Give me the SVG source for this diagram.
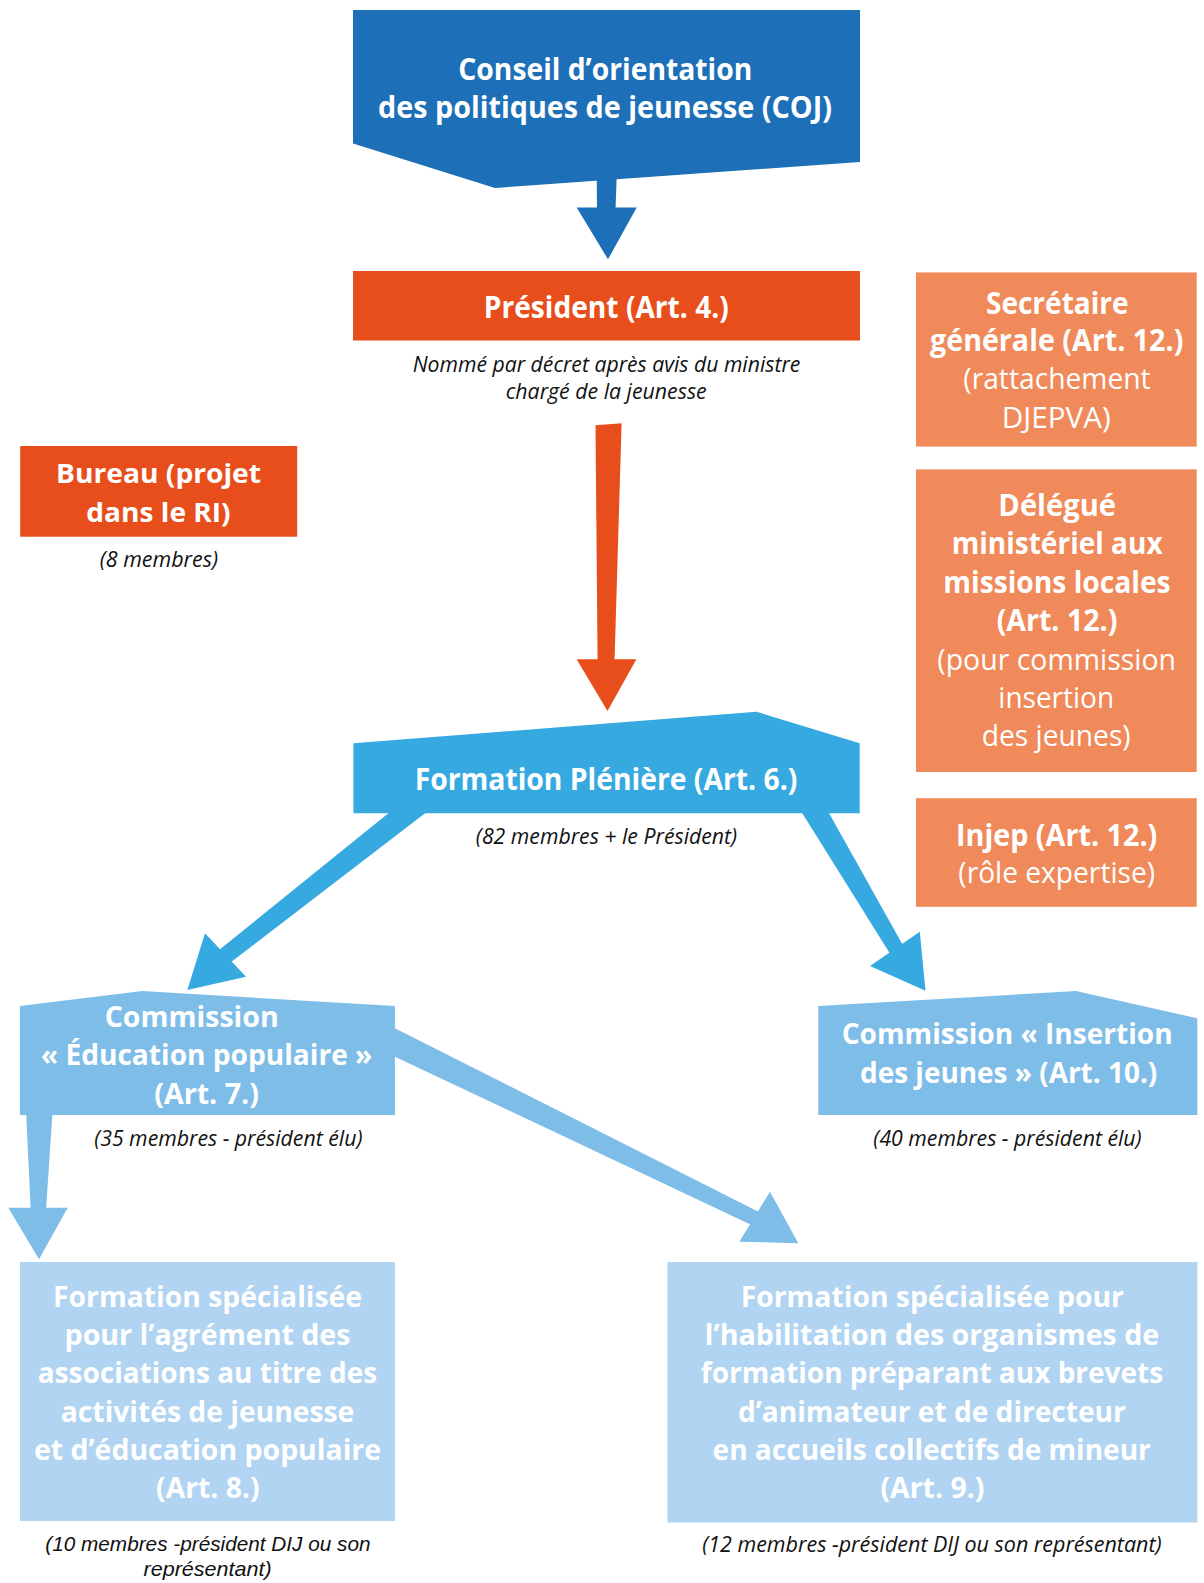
<svg xmlns="http://www.w3.org/2000/svg" width="1204" height="1583" viewBox="0 0 1204 1583">
<style>
text{font-family:"Open Sans","Liberation Sans",sans-serif;text-anchor:middle}
.b{font-weight:700;fill:#fff}
.r{font-weight:400;fill:#fff}
.s30{font-size:30px}
.s29{font-size:29px}
.s28{font-size:28px}
.s27{font-size:27px}
.i{font-style:italic;font-size:21px;fill:#111}
.i2{font-family:"Liberation Sans",Arial,sans-serif}
.coj{fill:#1D70B7}
.red{fill:#E84E1B}
.lor{fill:#F18A5B}
.ple{fill:#36A9E1}
.com{fill:#7FBDE9}
.spe{fill:#B0D4F1}
</style>
<rect width="1204" height="1583" fill="#fff"/>
<g id="connectors">
  <g id="arrow-coj-president" class="coj">
    <polygon points="596.7,176 616.7,176 615.5,210 597,210"/>
    <polygon points="576.7,207.5 636.7,207.5 608,259.3"/>
  </g>
  <g id="arrow-president-pleniere" class="red">
    <polygon points="595.5,425.3 621.6,423.3 614.5,662 597.6,662"/>
    <polygon points="576.6,659.3 636.4,659.3 607.5,711"/>
  </g>
  <g id="arrow-pleniere-education" class="ple">
    <polygon points="396.1,807 432.9,807.2 228.5,964.1 216.9,951.8"/>
    <polygon points="205,933.3 246,976.7 187.3,990"/>
  </g>
  <g id="arrow-pleniere-insertion" class="ple">
    <polygon points="797.3,805.3 824.6,805.3 903.8,946.8 891.3,955.7"/>
    <polygon points="870,966 919.8,931.7 925.5,990.7"/>
  </g>
  <g id="arrow-education-agrement" class="com">
    <polygon points="26,1110 52.7,1110 46,1210 30.7,1210"/>
    <polygon points="8.3,1207.8 67.7,1207.8 39,1259.3"/>
  </g>
  <g id="arrow-education-habilitation" class="com">
    <polygon points="385,1023.3 394.9,1028.3 762,1213.5 754.1,1226.2 394.9,1056.7 385,1052"/>
    <polygon points="770,1191.7 739.3,1241.7 798.3,1243.3"/>
  </g>
</g>
<g id="node-coj">
  <polygon class="coj" points="353,10 860,10 860,162 495,188 353,143.5"/>
  <text class="b s30" x="605.3" y="80" textLength="294" lengthAdjust="spacingAndGlyphs">Conseil d’orientation</text>
  <text class="b s30" x="605" y="118" textLength="454" lengthAdjust="spacingAndGlyphs">des politiques de jeunesse (COJ)</text>
</g>
<g id="node-president">
  <rect class="red" x="353" y="271" width="507" height="69.5"/>
  <text class="b s30" x="606.3" y="318.3" textLength="245" lengthAdjust="spacingAndGlyphs">Président (Art. 4.)</text>
  <text class="i" x="606.5" y="371.5" textLength="387.7" lengthAdjust="spacingAndGlyphs">Nommé par décret après avis du ministre</text>
  <text class="i" x="606.2" y="399" textLength="201" lengthAdjust="spacingAndGlyphs">chargé de la jeunesse</text>
</g>
<g id="node-bureau">
  <rect class="red" x="20.2" y="446" width="277" height="90.7"/>
  <text class="b s27" x="158.5" y="483.3" textLength="205" lengthAdjust="spacingAndGlyphs">Bureau (projet</text>
  <text class="b s27" x="158.5" y="521.7" textLength="144.3" lengthAdjust="spacingAndGlyphs">dans le RI)</text>
  <text class="i" x="158.9" y="566.7" textLength="118.3" lengthAdjust="spacingAndGlyphs">(8 membres)</text>
</g>
<g id="node-secretaire">
  <rect class="lor" x="916" y="272.4" width="280.7" height="174.2"/>
  <text class="b s30" x="1057.3" y="313.9" textLength="142.7" lengthAdjust="spacingAndGlyphs">Secrétaire</text>
  <text class="b s30" x="1056.7" y="351.2" textLength="253.3" lengthAdjust="spacingAndGlyphs">générale (Art. 12.)</text>
  <text class="r s30" x="1057" y="389.4" textLength="187.3" lengthAdjust="spacingAndGlyphs">(rattachement</text>
  <text class="r s30" x="1056.2" y="427.9" textLength="109" lengthAdjust="spacingAndGlyphs">DJEPVA)</text>
</g>
<g id="node-delegue">
  <rect class="lor" x="916" y="469.4" width="280.7" height="302.6"/>
  <text class="b s30" x="1057.2" y="515.5" textLength="117.7" lengthAdjust="spacingAndGlyphs">Délégué</text>
  <text class="b s30" x="1057.2" y="554" textLength="211" lengthAdjust="spacingAndGlyphs">ministériel aux</text>
  <text class="b s30" x="1057" y="592.5" textLength="227.3" lengthAdjust="spacingAndGlyphs">missions locales</text>
  <text class="b s30" x="1057" y="631" textLength="120.7" lengthAdjust="spacingAndGlyphs">(Art. 12.)</text>
  <text class="r s30" x="1056.7" y="669.5" textLength="238.7" lengthAdjust="spacingAndGlyphs">(pour commission</text>
  <text class="r s30" x="1056.2" y="708" textLength="115.7" lengthAdjust="spacingAndGlyphs">insertion</text>
  <text class="r s30" x="1056.2" y="746" textLength="149" lengthAdjust="spacingAndGlyphs">des jeunes)</text>
</g>
<g id="node-injep">
  <rect class="lor" x="916" y="798.2" width="280.7" height="108.6"/>
  <text class="b s30" x="1056.7" y="846" textLength="201.3" lengthAdjust="spacingAndGlyphs">Injep (Art. 12.)</text>
  <text class="r s30" x="1056.7" y="883" textLength="196.7" lengthAdjust="spacingAndGlyphs">(rôle expertise)</text>
</g>
<g id="node-pleniere">
  <polygon class="ple" points="353.4,743.3 756.4,711.7 859.7,743.3 859.7,813.3 353.4,813.3"/>
  <text class="b s30" x="606" y="790" textLength="382.7" lengthAdjust="spacingAndGlyphs">Formation Plénière (Art. 6.)</text>
  <text class="i" x="606.5" y="844" textLength="261.3" lengthAdjust="spacingAndGlyphs">(82 membres + le Président)</text>
</g>
<g id="node-education">
  <polygon class="com" points="19.9,1006 142.3,991 394.9,1006 394.9,1115 19.9,1115"/>
  <text class="b s28" x="191.7" y="1026.5" textLength="174" lengthAdjust="spacingAndGlyphs">Commission</text>
  <text class="b s28" x="206.6" y="1065" textLength="331.6" lengthAdjust="spacingAndGlyphs">« Éducation populaire »</text>
  <text class="b s28" x="206.6" y="1103.5" textLength="104.6" lengthAdjust="spacingAndGlyphs">(Art. 7.)</text>
  <text class="i" x="228.3" y="1145.5" textLength="268.3" lengthAdjust="spacingAndGlyphs">(35 membres - président élu)</text>
</g>
<g id="node-insertion">
  <polygon class="com" points="818.3,1006 1076,991 1197.3,1018.3 1197.3,1115 818.3,1115"/>
  <text class="b s29" x="1007.2" y="1044" textLength="331" lengthAdjust="spacingAndGlyphs">Commission « Insertion</text>
  <text class="b s29" x="1008.7" y="1083.3" textLength="297.3" lengthAdjust="spacingAndGlyphs">des jeunes » (Art. 10.)</text>
  <text class="i" x="1007.5" y="1146" textLength="268.3" lengthAdjust="spacingAndGlyphs">(40 membres - président élu)</text>
</g>
<g id="node-agrement">
  <rect class="spe" x="20" y="1262" width="375" height="259"/>
  <text class="b s28" x="207.5" y="1306.7" textLength="308.9" lengthAdjust="spacingAndGlyphs">Formation spécialisée</text>
  <text class="b s28" x="207.5" y="1345" textLength="285.9" lengthAdjust="spacingAndGlyphs">pour l’agrément des</text>
  <text class="b s28" x="207.5" y="1383.3" textLength="339.5" lengthAdjust="spacingAndGlyphs">associations au titre des</text>
  <text class="b s28" x="207.5" y="1421.7" textLength="293.5" lengthAdjust="spacingAndGlyphs">activités de jeunesse</text>
  <text class="b s28" x="207.5" y="1460" textLength="347.1" lengthAdjust="spacingAndGlyphs">et d’éducation populaire</text>
  <text class="b s28" x="207.8" y="1498.3" textLength="103.4" lengthAdjust="spacingAndGlyphs">(Art. 8.)</text>
  <text class="i i2" x="207.9" y="1551.2" textLength="325.3" lengthAdjust="spacingAndGlyphs">(10 membres -président DIJ ou son</text>
  <text class="i i2" x="207.6" y="1575.5" textLength="128.2" lengthAdjust="spacingAndGlyphs">représentant)</text>
</g>
<g id="node-habilitation">
  <rect class="spe" x="667.4" y="1262" width="530" height="260.5"/>
  <text class="b s28" x="932.3" y="1306.7" textLength="383.3" lengthAdjust="spacingAndGlyphs">Formation spécialisée pour</text>
  <text class="b s28" x="932" y="1345" textLength="454.5" lengthAdjust="spacingAndGlyphs">l’habilitation des organismes de</text>
  <text class="b s28" x="932" y="1383.3" textLength="462.3" lengthAdjust="spacingAndGlyphs">formation préparant aux brevets</text>
  <text class="b s28" x="931.9" y="1421.7" textLength="387.9" lengthAdjust="spacingAndGlyphs">d’animateur et de directeur</text>
  <text class="b s28" x="931.7" y="1460" textLength="438.3" lengthAdjust="spacingAndGlyphs">en accueils collectifs de mineur</text>
  <text class="b s28" x="932.4" y="1498.3" textLength="104" lengthAdjust="spacingAndGlyphs">(Art. 9.)</text>
  <text class="i" x="931.9" y="1551.7" textLength="459.5" lengthAdjust="spacingAndGlyphs">(12 membres -président DIJ ou son représentant)</text>
</g>
</svg>
